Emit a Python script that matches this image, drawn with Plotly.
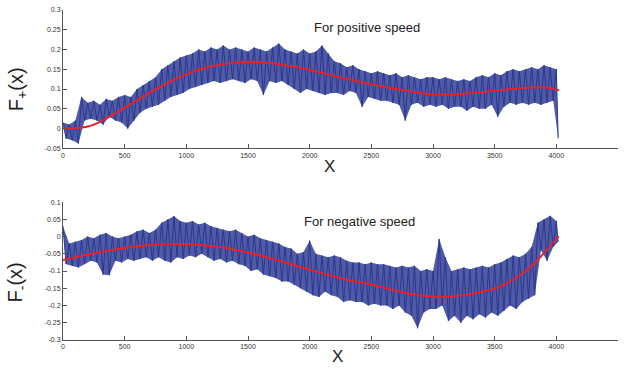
import plotly.graph_objects as go

# ---------------- data ----------------
# smooth fits (red), sampled every 100 units of X
fit_x = list(range(0, 4001, 100)) + [4020]
fplus_fit = [0.0, 0.001, 0.005, 0.017, 0.034, 0.053, 0.071, 0.090, 0.107, 0.123,
             0.137, 0.149, 0.157, 0.163, 0.167, 0.169, 0.168, 0.165, 0.160, 0.155,
             0.148, 0.141, 0.133, 0.126, 0.119, 0.112, 0.106, 0.100, 0.095, 0.090,
             0.087, 0.086, 0.087, 0.089, 0.092, 0.096, 0.099, 0.102, 0.104, 0.104,
             0.099, 0.096]
fminus_fit = [-0.068, -0.060, -0.052, -0.045, -0.039, -0.033, -0.028, -0.025, -0.023, -0.022,
              -0.022, -0.024, -0.028, -0.032, -0.039, -0.046, -0.055, -0.065, -0.075, -0.086,
              -0.096, -0.106, -0.116, -0.125, -0.132, -0.139, -0.148, -0.157, -0.165, -0.171,
              -0.174, -0.175, -0.172, -0.167, -0.160, -0.151, -0.135, -0.113, -0.085, -0.048,
              -0.006, 0.0]

# noisy measurements (blue), read every 25 units of X (alternating peaks / troughs)
noise_x = list(range(0, 4001, 25)) + [4015]
fplus_noise = [
    0.015, -0.025, 0.01, -0.03, 0.02, -0.038, 0.08, 0.02,
    0.065, 0.025, 0.07, 0.02, 0.06, 0.01, 0.075, 0.03,
    0.07, 0.02, 0.08, 0.015, 0.085, 0.0, 0.08, 0.02,
    0.1, 0.04, 0.11, 0.05, 0.12, 0.055, 0.13, 0.06,
    0.15, 0.07, 0.16, 0.08, 0.17, 0.085, 0.18, 0.09,
    0.185, 0.1, 0.19, 0.105, 0.2, 0.11, 0.195, 0.115,
    0.205, 0.12, 0.2, 0.115, 0.21, 0.12, 0.2, 0.125,
    0.205, 0.12, 0.2, 0.115, 0.195, 0.125, 0.205, 0.12,
    0.2, 0.085, 0.195, 0.12, 0.205, 0.115, 0.215, 0.12,
    0.2, 0.11, 0.195, 0.1, 0.19, 0.09, 0.2, 0.1,
    0.19, 0.095, 0.195, 0.09, 0.21, 0.085, 0.19, 0.09,
    0.17, 0.09, 0.165, 0.085, 0.155, 0.095, 0.16, 0.09,
    0.15, 0.055, 0.145, 0.08, 0.14, 0.075, 0.145, 0.07,
    0.14, 0.07, 0.135, 0.065, 0.14, 0.06, 0.13, 0.02,
    0.135, 0.06, 0.13, 0.065, 0.125, 0.055, 0.13, 0.06,
    0.13, 0.055, 0.125, 0.06, 0.13, 0.05, 0.125, 0.055,
    0.12, 0.055, 0.125, 0.045, 0.12, 0.055, 0.13, 0.05,
    0.135, 0.05, 0.13, 0.06, 0.14, 0.03, 0.135, 0.055,
    0.145, 0.065, 0.15, 0.06, 0.145, 0.065, 0.15, 0.06,
    0.155, 0.065, 0.15, 0.06, 0.16, 0.065, 0.155, 0.07,
    0.15, -0.025]
fminus_noise = [
    0.03, -0.08, -0.02, -0.085, -0.015, -0.09, -0.01, -0.08,
    0.0, -0.07, -0.005, -0.075, 0.005, -0.11, 0.01, -0.112,
    0.0, -0.07, -0.005, -0.075, 0.0, -0.065, 0.005, -0.07,
    0.015, -0.065, 0.02, -0.06, 0.01, -0.07, 0.02, -0.06,
    0.04, -0.07, 0.05, -0.075, 0.059, -0.06, 0.045, -0.065,
    0.04, -0.055, 0.045, -0.06, 0.035, -0.05, 0.04, -0.06,
    0.03, -0.07, 0.025, -0.065, 0.02, -0.075, 0.015, -0.07,
    0.02, -0.08, 0.01, -0.085, 0.0, -0.1, 0.005, -0.095,
    -0.005, -0.11, -0.01, -0.115, -0.015, -0.12, -0.02, -0.13,
    -0.03, -0.13, -0.035, -0.14, -0.05, -0.15, -0.045, -0.16,
    -0.012, -0.17, -0.05, -0.175, -0.055, -0.16, -0.06, -0.17,
    -0.055, -0.175, -0.06, -0.19, -0.07, -0.185, -0.075, -0.19,
    -0.075, -0.19, -0.08, -0.2, -0.075, -0.195, -0.08, -0.2,
    -0.08, -0.2, -0.085, -0.21, -0.09, -0.2, -0.085, -0.22,
    -0.09, -0.23, -0.085, -0.266, -0.1, -0.22, -0.095, -0.21,
    -0.1, -0.21, -0.007, -0.2, -0.06, -0.245, -0.1, -0.23,
    -0.095, -0.25, -0.09, -0.23, -0.095, -0.24, -0.09, -0.225,
    -0.085, -0.235, -0.09, -0.22, -0.08, -0.23, -0.075, -0.215,
    -0.065, -0.2, -0.055, -0.21, -0.06, -0.19, -0.05, -0.18,
    -0.03, -0.17, 0.04, -0.04, 0.05, -0.07, 0.06, -0.03,
    0.045, -0.015]

x_ticks = [0, 500, 1000, 1500, 2000, 2500, 3000, 3500, 4000, 4500]
x_ticklabels = ["0", "500", "1000", "1500", "2000", "2500", "3000", "3500", "4000", "4500"]
yp_ticks = [-0.05, 0, 0.05, 0.1, 0.15, 0.2, 0.25, 0.3]
yp_ticklabels = ["-0.05", "0", "0.05", "0.1", "0.15", "0.2", "0.25", "0.3"]
ym_ticks = [-0.3, -0.25, -0.2, -0.15, -0.1, -0.05, 0, 0.05, 0.1]
ym_ticklabels = ["-0.3", "-0.25", "-0.2", "-0.15", "-0.1", "-0.05", "0", "0.05", "0.1"]

BLUE = "#2b3791"
BLUE_FILL = "rgba(43,55,145,0.82)"
RED = "#e8202a"
AX = "#555555"
FONT = "Liberation Sans, Arial, sans-serif"

fig = go.Figure()


def add_noise(xs, ys, xa, ya):
    # band between the read peaks and troughs, then the measurement trace itself
    fig.add_trace(go.Scatter(x=xs[0::2], y=ys[0::2], mode="lines", line=dict(width=0, color=BLUE),
                             xaxis=xa, yaxis=ya, showlegend=False, hoverinfo="skip"))
    fig.add_trace(go.Scatter(x=xs[1::2], y=ys[1::2], mode="lines", line=dict(width=0, color=BLUE),
                             fill="tonexty", fillcolor=BLUE_FILL,
                             xaxis=xa, yaxis=ya, showlegend=False, hoverinfo="skip"))
    fig.add_trace(go.Scatter(x=xs, y=ys, mode="lines", line=dict(color=BLUE, width=1),
                             xaxis=xa, yaxis=ya, showlegend=False))


add_noise(noise_x, fplus_noise, "x", "y")
fig.add_trace(go.Scatter(x=fit_x, y=fplus_fit, mode="lines", line_shape="spline",
                         line=dict(color=RED, width=2), xaxis="x", yaxis="y", showlegend=False))
add_noise(noise_x, fminus_noise, "x2", "y2")
fig.add_trace(go.Scatter(x=fit_x, y=fminus_fit, mode="lines", line_shape="spline",
                         line=dict(color=RED, width=2), xaxis="x2", yaxis="y2", showlegend=False))

axis_common = dict(showline=True, linecolor=AX, linewidth=1, ticks="inside", ticklen=4,
                   tickcolor=AX, tickwidth=1, showgrid=False, zeroline=False,
                   tickfont=dict(family=FONT, size=7, color="#333333"), mirror=False)

fig.update_layout(
    width=624, height=370,
    margin=dict(l=63, r=6, t=7, b=30),
    paper_bgcolor="white", plot_bgcolor="white",
    font=dict(family=FONT),
    xaxis=dict(domain=[0, 1], range=[0, 4500], anchor="y", tickmode="array",
               tickvals=x_ticks, ticktext=x_ticklabels, **axis_common),
    yaxis=dict(domain=[0.581, 1.0], range=[-0.05, 0.3], anchor="x", tickmode="array",
               tickvals=yp_ticks, ticktext=yp_ticklabels, **axis_common),
    xaxis2=dict(domain=[0, 1], range=[0, 4500], anchor="y2", tickmode="array",
                tickvals=x_ticks, ticktext=x_ticklabels, **axis_common),
    yaxis2=dict(domain=[0, 0.418], range=[-0.3, 0.1], anchor="x2", tickmode="array",
                tickvals=ym_ticks, ticktext=ym_ticklabels, **axis_common),
)

ann = [
    dict(text="For positive speed", x=2019, y=0.2555, xref="x", yref="y",
         xanchor="left", yanchor="middle", showarrow=False,
         font=dict(family=FONT, size=13, color="#222222")),
    dict(text="For negative speed", x=1938, y=0.0425, xref="x2", yref="y2",
         xanchor="left", yanchor="middle", showarrow=False,
         font=dict(family=FONT, size=13, color="#222222")),
    dict(text="X", x=0.481, y=0.5255, xref="paper", yref="paper",
         xanchor="center", yanchor="middle", showarrow=False,
         font=dict(family=FONT, size=17, color="#222222")),
    dict(text="X", x=0.495, y=-0.051, xref="paper", yref="paper",
         xanchor="center", yanchor="middle", showarrow=False,
         font=dict(family=FONT, size=17, color="#222222")),
    dict(text="F<sub>+</sub>(x)", x=-0.083, y=0.76, xref="paper", yref="paper",
         xanchor="center", yanchor="middle", showarrow=False, textangle=-90,
         font=dict(family=FONT, size=20, color="#222222")),
    dict(text="F<sub>-</sub>(x)", x=-0.083, y=0.174, xref="paper", yref="paper",
         xanchor="center", yanchor="middle", showarrow=False, textangle=-90,
         font=dict(family=FONT, size=20, color="#222222")),
]
fig.update_layout(annotations=ann)

fig.write_html("out.html")
